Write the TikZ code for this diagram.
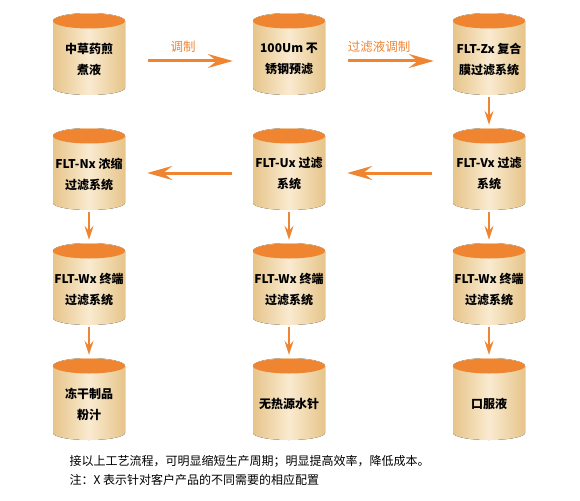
\documentclass[tikz,border=0pt]{standalone}
\usepackage{fontspec}
\setmainfont{Noto Sans CJK SC}
\usetikzlibrary{arrows.meta}
\definecolor{orng}{HTML}{EF8431}
\definecolor{tanedge}{HTML}{E6C58A}
\definecolor{tanmid}{HTML}{FAEAD0}
\tikzset{
  cylbox/.style={minimum width=72pt, minimum height=82pt, inner sep=0pt, draw=none},
  cyltext/.style={font=\bfseries\fontsize{12}{21}\selectfont, align=center, text=black},
  harrow/.style={draw=orng, line width=3pt, -{Stealth[length=25pt,width=14pt,inset=9pt]}},
  varrow/.style={draw=orng, line width=2pt, -{Stealth[length=14pt,width=9pt,inset=5pt]}},
  alabel/.style={font=\fontsize{12.5}{14}\selectfont, text=orng},
  note/.style={font=\fontsize{12}{14}\selectfont, anchor=west, text=black}
}
% \mycyl{name}{x}{top}{text}
\newcommand{\mycyl}[4]{%
  \fill[left color=tanedge, right color=tanedge, middle color=tanmid]
    (#2-36,#3+8) -- (#2-36,#3+75) arc[start angle=180, end angle=360, x radius=36, y radius=-7]
    -- (#2+36,#3+8) arc[start angle=0, end angle=180, x radius=36, y radius=-8] -- cycle;
  \fill[orng] (#2,#3+8) ellipse[x radius=36, y radius=7.5];
  \node[cylbox] (#1) at (#2,#3+41) {};
  \node[cyltext] (#1t) at (#2,#3+46) {#4};
}
\begin{document}
\begin{tikzpicture}[x=1pt, y=-1pt]
\useasboundingbox (0,0) rectangle (580,500);
\mycyl{a1}{89}{13}{中草药煎\\煮液}
\mycyl{a2}{289}{13}{100Um 不\\锈钢预滤}
\mycyl{a3}{489}{13}{FLT-Zx 复合\\膜过滤系统}
\mycyl{b1}{89}{128}{FLT-Nx 浓缩\\过滤系统}
\mycyl{b2}{289}{128}{FLT-Ux 过滤\\系统}
\mycyl{b3}{489}{128}{FLT-Vx 过滤\\系统}
\mycyl{c1}{89}{243}{FLT-Wx 终端\\过滤系统}
\mycyl{c2}{289}{243}{FLT-Wx 终端\\过滤系统}
\mycyl{c3}{489}{243}{FLT-Wx 终端\\过滤系统}
\mycyl{d1}{89}{358}{冻干制品\\粉汁}
\mycyl{d2}{289}{358}{无热源水针}
\mycyl{d3}{489}{358}{口服液}
% horizontal arrows
\draw[harrow, shorten <=23pt, shorten >=20pt] ([yshift=-7pt]a1.east) -- ([yshift=-7pt]a2.west);
\draw[harrow, shorten <=23pt, shorten >=19pt] ([yshift=-7pt]a2.east) -- ([yshift=-7pt]a3.west);
\draw[harrow, shorten <=21pt, shorten >=22pt] ([yshift=-4pt]b3.west) -- ([yshift=-4pt]b2.east);
\draw[harrow, shorten <=21pt, shorten >=22pt] ([yshift=-4pt]b2.west) -- ([yshift=-4pt]b1.east);
\node[alabel] (l1) at (183,47) {调制};
\node[alabel] (l2) at (379,47) {过滤液调制};
% vertical arrows
\draw[varrow, shorten <=2pt, shorten >=3pt] (a3.south) -- (b3.north);
\foreach \c in {1,2,3}{
  \draw[varrow, shorten <=2pt, shorten >=3pt] (b\c.south) -- (c\c.north);
  \draw[varrow, shorten <=2pt, shorten >=3pt] (c\c.south) -- (d\c.north);
}
% notes
\node[note] (n1) at (66,461) {接以上工艺流程，可明显缩短生产周期；明显提高效率，降低成本。};
\node[note] (n2) at (66,480) {注：X 表示针对客户产品的不同需要的相应配置};
\end{tikzpicture}
\end{document}
